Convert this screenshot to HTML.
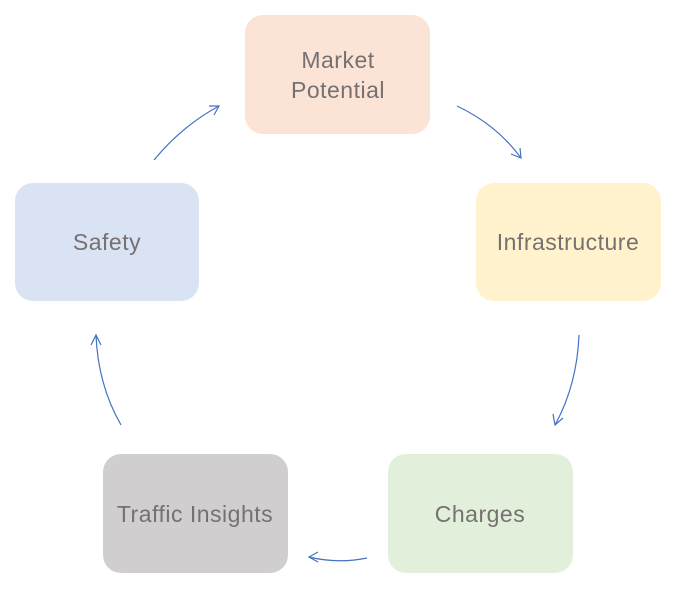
<!DOCTYPE html>
<html><head><style>
html,body{margin:0;padding:0;background:#fff;}
svg{display:block;}
text{font-family:"Liberation Sans",sans-serif;font-size:23px;letter-spacing:0.5px;fill:#767171;text-anchor:middle;}
</style></head><body>
<svg width="674" height="593" viewBox="0 0 674 593" xmlns="http://www.w3.org/2000/svg">
<rect x="245" y="15" width="185" height="119" rx="18" fill="#FBE3D6"/>
<rect x="476" y="183" width="185" height="118" rx="18" fill="#FFF2CC"/>
<rect x="388" y="454" width="185" height="119" rx="18" fill="#E2EFDA"/>
<rect x="103" y="454" width="185" height="119" rx="18" fill="#D0CECE"/>
<rect x="15" y="183" width="184" height="118" rx="18" fill="#DAE3F3"/>
<text x="338" y="68">Market</text>
<text x="338" y="98">Potential</text>
<text x="568" y="250">Infrastructure</text>
<text x="480" y="522">Charges</text>
<text x="195" y="522">Traffic Insights</text>
<text x="107" y="250">Safety</text>
<g fill="none" stroke="#4472C4" stroke-width="1.2">
<path d="M457 106 Q497 125 521 158"/><path d="M511 154 L521 158 L520 148"/>
<path d="M579 335 Q577 385 555 425"/><path d="M553 414 L555 425 L563 418"/>
<path d="M367 558 Q338 564 309 557"/><path d="M318 552 L309 557 L318 562"/>
<path d="M121 425 Q98 385 96 335"/><path d="M91 345 L96 335 L101 345"/>
<path d="M154 160 Q182 126 219 106"/><path d="M209 106 L219 106 L214 115"/>
</g>
</svg>
</body></html>
